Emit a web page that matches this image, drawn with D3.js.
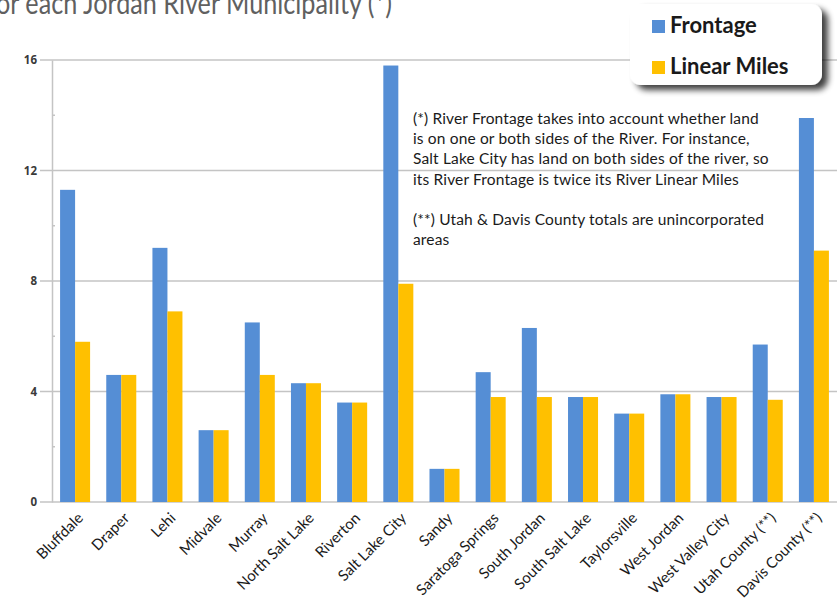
<!DOCTYPE html>
<html>
<head>
<meta charset="utf-8">
<script src="https://cdn.jsdelivr.net/npm/d3@7"></script>
<style>
  html, body { margin: 0; padding: 0; background: #fff; }
  svg { display: block; }
</style>
</head>
<body>
<svg id="chart" width="839" height="605"></svg>
<script>
// River frontage and linear miles per Jordan River municipality
const municipalities = [
  "Bluffdale", "Draper", "Lehi", "Midvale", "Murray", "North Salt Lake",
  "Riverton", "Salt Lake City", "Sandy", "Saratoga Springs", "South Jordan",
  "South Salt Lake", "Taylorsville", "West Jordan", "West Valley City",
  "Utah County (**)", "Davis County (**)"
];
const frontage = [11.3, 4.6, 9.2, 2.6, 6.5, 4.3, 3.6, 15.8, 1.2, 4.7, 6.3, 3.8, 3.2, 3.9, 3.8, 5.7, 13.9];
const linearMiles = [5.8, 4.6, 6.9, 2.6, 4.6, 4.3, 3.6, 7.9, 1.2, 3.8, 3.8, 3.8, 3.2, 3.9, 3.8, 3.7, 9.1];
const seriesNames = ["Frontage", "Linear Miles"];
const seriesColors = ["#558ED5", "#FFC000"];
const majorTicks = [0, 4, 8, 12, 16];
const minorTicks = [2, 6, 10, 14];
const titleText = "or each Jordan River Municipality (*)";
const noteLines = [
  "(*) River Frontage takes into account whether land",
  "is on one or both sides of the River. For instance,",
  "Salt Lake City has land on both sides of the river, so",
  "its River Frontage is twice its River Linear Miles",
  "",
  "(**) Utah & Davis County totals are unincorporated",
  "areas"
];

const rows = municipalities.map((m, i) => ({ name: m, values: [frontage[i], linearMiles[i]] }));

const svg = d3.select("#chart");
const plot = { left: 52, right: 837, top: 60, bottom: 502 };

const x0 = d3.scaleBand()
  .domain(municipalities)
  .range([plot.left, plot.right])
  .paddingInner(0.35)
  .paddingOuter(0.175);
const x1 = d3.scaleBand()
  .domain(seriesNames)
  .range([0, x0.bandwidth()]);
const y = d3.scaleLinear().domain([0, 16]).range([plot.bottom, plot.top]);

// Title, running off the top edge of the slide
svg.append("text")
  .attr("x", -4).attr("y", 14)
  .attr("font-family", "Lato, 'Open Sans', sans-serif")
  .attr("font-size", 31)
  .attr("fill", "#606060")
  .attr("textLength", 396)
  .attr("lengthAdjust", "spacingAndGlyphs")
  .text(titleText);

// Horizontal gridlines
svg.append("g").selectAll("line")
  .data(majorTicks)
  .join("line")
  .attr("x1", 40).attr("x2", plot.right)
  .attr("y1", d => y(d)).attr("y2", d => y(d))
  .attr("stroke", "#c4c4c4")
  .attr("stroke-width", 1.5);

// Value axis with major and minor ticks
const yAxis = svg.append("g").attr("transform", `translate(${plot.left},0)`)
  .call(d3.axisLeft(y).tickValues(majorTicks).tickSize(0).tickPadding(15));
yAxis.select(".domain").attr("stroke", "#c4c4c4").attr("stroke-width", 1.5);
yAxis.selectAll("text")
  .attr("font-family", "'Open Sans', 'DejaVu Sans', sans-serif")
  .attr("font-weight", "bold")
  .attr("font-size", 11.5)
  .attr("fill", "#3a3a3a");
svg.append("g").selectAll("line")
  .data(minorTicks)
  .join("line")
  .attr("x1", plot.left).attr("x2", plot.left + 3)
  .attr("y1", d => y(d)).attr("y2", d => y(d))
  .attr("stroke", "#c4c4c4")
  .attr("stroke-width", 1.5);

// Bars
const groups = svg.append("g").selectAll("g")
  .data(rows)
  .join("g")
  .attr("transform", d => `translate(${x0(d.name)},0)`);
groups.selectAll("rect")
  .data(d => d.values.map((v, i) => ({ key: seriesNames[i], value: v, color: seriesColors[i] })))
  .join("rect")
  .attr("x", d => x1(d.key))
  .attr("width", x1.bandwidth())
  .attr("y", d => y(d.value))
  .attr("height", d => y(0) - y(d.value))
  .attr("fill", d => d.color);

// Rotated category labels
const xAxis = svg.append("g").attr("transform", `translate(0,${plot.bottom})`)
  .call(d3.axisBottom(x0).tickSize(0).tickPadding(0));
xAxis.select(".domain").remove();
xAxis.selectAll("text")
  .attr("font-family", "Lato, 'Open Sans', sans-serif")
  .attr("font-size", 15)
  .attr("fill", "#1a1a1a")
  .attr("text-anchor", "end")
  .attr("dy", 0)
  .attr("transform", "translate(9,17) rotate(-45)");

// Footnote text
svg.append("g").selectAll("text")
  .data(noteLines)
  .join("text")
  .attr("x", 413)
  .attr("y", (d, i) => 124 + i * 20.2)
  .attr("font-family", "Lato, 'Open Sans', sans-serif")
  .attr("font-size", 15.5)
  .attr("letter-spacing", 0.15)
  .attr("fill", "#1a1a1a")
  .text(d => d);

// Legend with drop shadow
const defs = svg.append("defs");
const shadow = defs.append("filter").attr("id", "legendShadow")
  .attr("x", "-20%").attr("y", "-20%").attr("width", "150%").attr("height", "160%");
shadow.append("feGaussianBlur").attr("in", "SourceAlpha").attr("stdDeviation", 3);
shadow.append("feOffset").attr("dx", 6).attr("dy", 5).attr("result", "off");
shadow.append("feComponentTransfer").append("feFuncA").attr("type", "linear").attr("slope", 0.75);
const merge = shadow.append("feMerge");
merge.append("feMergeNode");
merge.append("feMergeNode").attr("in", "SourceGraphic");

const legend = svg.append("g");
legend.append("rect")
  .attr("x", 630).attr("y", 4)
  .attr("width", 192).attr("height", 81)
  .attr("rx", 11)
  .attr("fill", "#fff")
  .attr("filter", "url(#legendShadow)");
const items = legend.selectAll("g.item")
  .data(seriesNames)
  .join("g")
  .attr("class", "item")
  .attr("transform", (d, i) => `translate(652,${20 + i * 41})`);
items.append("rect")
  .attr("width", 13).attr("height", 13)
  .attr("fill", (d, i) => seriesColors[i]);
items.append("text")
  .attr("x", 18).attr("y", 13)
  .attr("font-family", "Lato, 'Open Sans', sans-serif")
  .attr("font-weight", "bold")
  .attr("font-size", 22)
  .attr("fill", "#1a1a1a")
  .text(d => d);
</script>
</body>
</html>
